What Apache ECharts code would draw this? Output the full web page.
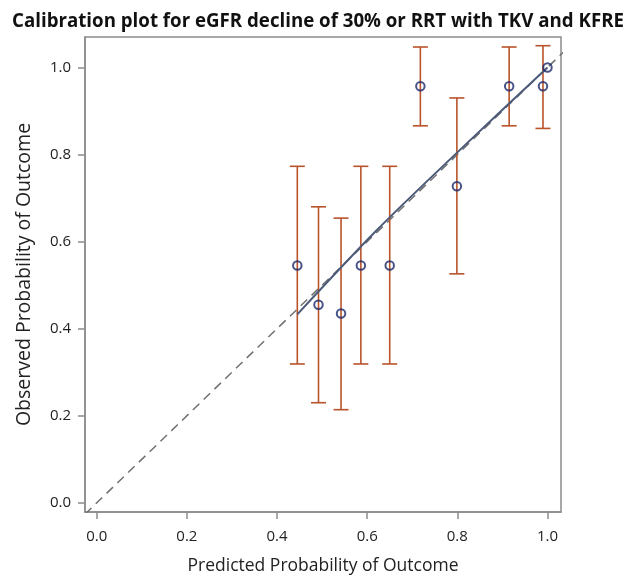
<!DOCTYPE html>
<html>
<head>
<meta charset="utf-8">
<script src="https://cdn.jsdelivr.net/npm/echarts@6/dist/echarts.min.js"></script>
<style>
html,body{margin:0;padding:0;background:#fff;}
#chart{width:636px;height:587px;}
</style>
</head>
<body>
<div id="chart"></div>
<script>
const predicted = [0.445, 0.492, 0.542, 0.586, 0.650, 0.718, 0.799, 0.915, 0.990, 1.000];
const observed  = [0.545, 0.455, 0.435, 0.545, 0.545, 0.957, 0.727, 0.957, 0.957, 1.000];
const lowerCI   = [0.319, 0.230, 0.214, 0.319, 0.319, 0.866, 0.526, 0.866, 0.860, null];
const upperCI   = [0.773, 0.680, 0.654, 0.773, 0.773, 1.047, 0.930, 1.047, 1.050, null];
const fitX = [0.445, 0.62, 0.80, 1.00];
const fitY = [0.433, 0.625, 0.805, 1.00];
const refLine = [-0.05, 1.06];
const tickValues = [0.0, 0.2, 0.4, 0.6, 0.8, 1.0];

const chart = echarts.init(document.getElementById('chart'));
const font = '"Open Sans", "Liberation Sans", sans-serif';
const axisColor = '#8c8c8c';

const errData = predicted.map((p, i) => [p, lowerCI[i], upperCI[i]]).filter(d => d[1] != null);

const axisCommon = {
  type: 'value',
  splitLine: {show: false},
  axisLine: {show: true, onZero: false, lineStyle: {color: axisColor, width: 1.5}},
  axisTick: {show: true, length: 7, customValues: tickValues, lineStyle: {color: axisColor, width: 1.5}},
  axisLabel: {customValues: tickValues, color: '#222', fontSize: 15, fontFamily: font,
    formatter: v => v.toFixed(1)},
  nameLocation: 'middle'
};

chart.setOption({
  animation: false,
  title: {
    text: 'Calibration plot for eGFR decline of 30% or RRT with TKV and KFRE',
    left: 'center', top: 7,
    textStyle: {fontSize: 18.7, fontWeight: 'bold', color: '#111', fontFamily: font}
  },
  grid: {left: 85, right: 75, top: 37, bottom: 75, show: true, borderColor: axisColor, borderWidth: 1.5, backgroundColor: '#fff'},
  xAxis: Object.assign({}, axisCommon, {
    min: -0.026, max: 1.03,
    name: 'Predicted Probability of Outcome', nameGap: 45,
    nameTextStyle: {color: '#222', fontSize: 17.5, fontFamily: font},
    axisLabel: Object.assign({}, axisCommon.axisLabel, {margin: 17})
  }),
  yAxis: Object.assign({}, axisCommon, {
    min: -0.021, max: 1.07,
    name: 'Observed Probability of Outcome', nameGap: 51,
    nameTextStyle: {color: '#222', fontSize: 19.5, fontFamily: font},
    axisLabel: Object.assign({}, axisCommon.axisLabel, {margin: 14})
  }),
  series: [
    {
      type: 'line', data: refLine.map(v => [v, v]), symbol: 'none', clip: true,
      lineStyle: {color: '#707070', width: 1.5, type: [9, 6]}, z: 1
    },
    {
      type: 'custom', data: errData, clip: true, z: 2,
      renderItem: function (params, api) {
        const x = api.value(0);
        const lo = api.coord([x, api.value(1)]);
        const hi = api.coord([x, api.value(2)]);
        const hw = 7.5;
        const style = {stroke: '#b8532a', lineWidth: 1.6, fill: null};
        return {type: 'group', children: [
          {type: 'line', shape: {x1: lo[0], y1: lo[1], x2: hi[0], y2: hi[1]}, style: style},
          {type: 'line', shape: {x1: lo[0] - hw, y1: lo[1], x2: lo[0] + hw, y2: lo[1]}, style: style},
          {type: 'line', shape: {x1: hi[0] - hw, y1: hi[1], x2: hi[0] + hw, y2: hi[1]}, style: style}
        ]};
      }
    },
    {
      type: 'line', data: fitX.map((x, i) => [x, fitY[i]]), symbol: 'none', smooth: 0.3,
      lineStyle: {color: '#4b5a78', width: 2}, z: 3
    },
    {
      type: 'scatter', data: predicted.map((p, i) => [p, observed[i]]),
      symbol: 'circle', symbolSize: 8.5,
      itemStyle: {color: 'rgba(0,0,0,0)', borderColor: '#1a286a', borderWidth: 2}, z: 4
    }
  ]
});
</script>
</body>
</html>
